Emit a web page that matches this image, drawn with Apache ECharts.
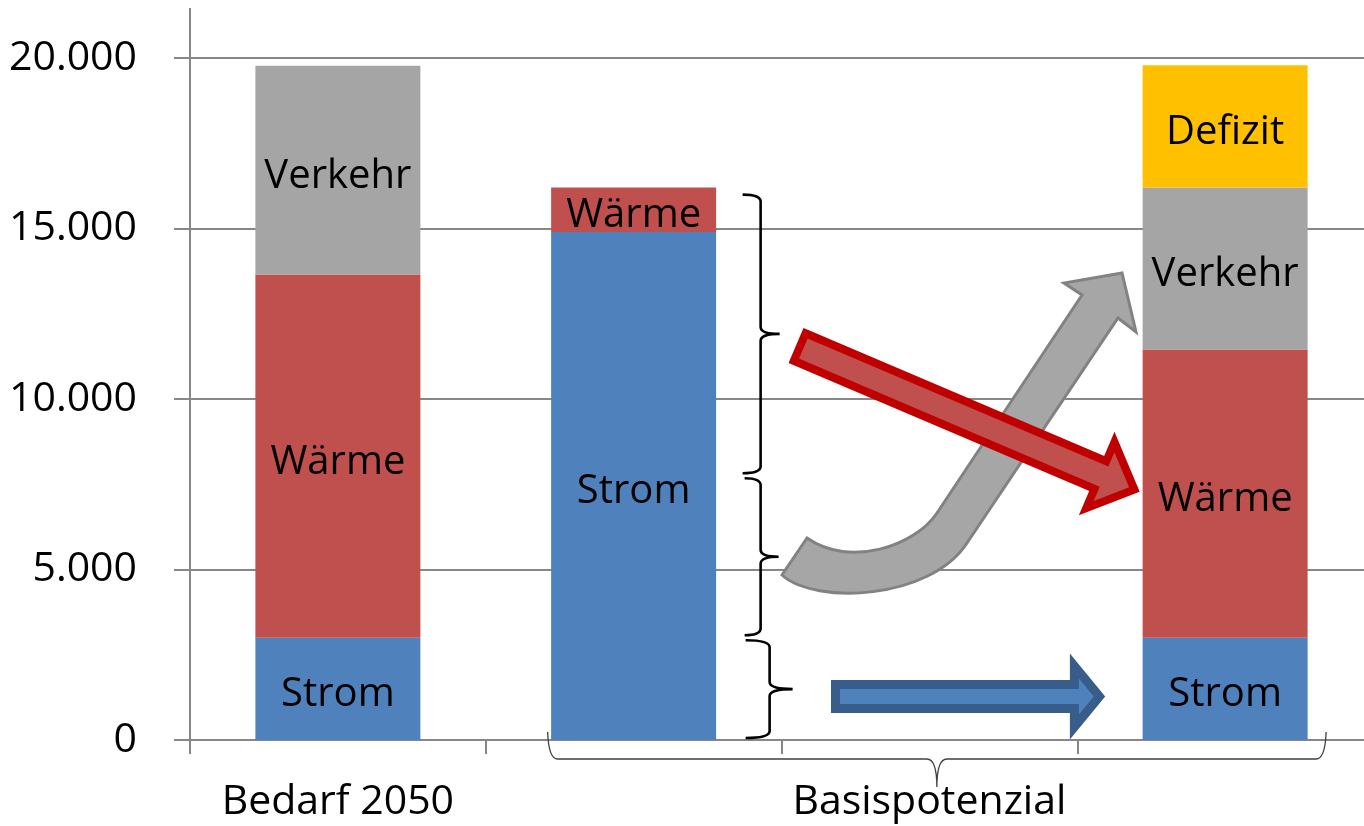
<!DOCTYPE html>
<html>
<head>
<meta charset="utf-8">
<script src="https://cdn.jsdelivr.net/npm/echarts@6/dist/echarts.min.js"></script>
<style>
  html, body { margin: 0; padding: 0; background: #fff; }
  #chart { width: 1364px; height: 826px; }
</style>
</head>
<body>
<div id="chart"></div>
<script>
// Energy demand 2050 vs. base potential (stacked bars)
const categories = ['Bedarf 2050', '', 'Basispotenzial', ''];
const strom   = [3000, 14900, '-', 3000];
const waerme  = [10650, 1300, '-', 8450];
const verkehr = [6120, '-', '-', 4750];
const defizit = ['-', '-', '-', 3590];

// How the base potential is split between the sectors (bracketed next to the second bar)
const splitSegments = [3000, 4750, 8450]; // Strom, Verkehr, Wärme

const yTicks = { min: 0, max: 20000, interval: 5000 };

const FONT = 'Open Sans';
const AXIS = '#878787';
const COLORS = { strom: '#4F81BD', waerme: '#C0504D', verkehr: '#A5A5A5', defizit: '#FFC000' };

const chart = echarts.init(document.getElementById('chart'), null, { renderer: 'canvas' });

function barSeries(name, data, color) {
  return {
    name, type: 'bar', stack: 'total', data,
    barWidth: 165,
    itemStyle: { color },
    label: {
      show: true, position: 'inside', formatter: '{a}', offset: [0, 6],
      color: '#000', fontFamily: FONT, fontSize: 40
    },
    emphasis: { disabled: true },
    z: 2
  };
}

function fmt(v) {
  return String(v).replace(/\B(?=(\d{3})+(?!\d))/g, '.');
}

// right-pointing curly brace
function braceRight(x, yTop, yBot, hook, tip) {
  const r = 7, yMid = (yTop + yBot) / 2;
  return `M${x - hook},${yTop} Q${x},${yTop} ${x},${yTop + r} L${x},${yMid - r} ` +
         `Q${x},${yMid} ${x + tip},${yMid} Q${x},${yMid} ${x},${yMid + r} ` +
         `L${x},${yBot - r} Q${x},${yBot} ${x - hook},${yBot}`;
}

// downward curly brace
function braceDown(x0, x1, yTop, yLine, yTip) {
  const xm = (x0 + x1) / 2, r = 10;
  return `M${x0},${yTop} Q${x0 + 1},${yLine} ${x0 + r},${yLine} L${xm - r},${yLine} ` +
         `Q${xm},${yLine} ${xm},${yTip} Q${xm},${yLine} ${xm + r},${yLine} ` +
         `L${x1 - r},${yLine} Q${x1 - 1},${yLine} ${x1},${yTop}`;
}

function arrowPts(x0, y0, x1, y1, bh, hh, hl) {
  const dx = x1 - x0, dy = y1 - y0, L = Math.hypot(dx, dy);
  const ux = dx / L, uy = dy / L, vx = -uy, vy = ux;
  const p = (s, t) => [x0 + ux * s + vx * t, y0 + uy * s + vy * t];
  return [p(0, -bh), p(L - hl, -bh), p(L - hl, -hh), p(L, 0), p(L - hl, hh), p(L - hl, bh), p(0, bh)];
}

// braces, arrows and the axis extension, placed through the cartesian coordinates
function renderAnnotations(params, api) {
  if (params.dataIndex !== 0) return;
  const pt = (i, v) => api.coord([i, v]);
  const band = api.size([1, 0])[0];
  const children = [];

  // vertical axis line continues above the top gridline
  const axisX = pt(0, 0)[0] - band / 2;
  children.push({
    type: 'line',
    shape: { x1: axisX, y1: 8, x2: axisX, y2: pt(0, yTicks.max)[1] },
    style: { stroke: AXIS, lineWidth: 2 }
  });

  // grey curved arrow (Verkehr)
  children.push({
    type: 'path',
    shape: { pathData: 'M782,575 C815,605 930,600 967,543 L1118,318 L1136,332 L1122,273 L1064,283 L1082,295 L937,513 C915,546 850,568 807,538 Z' },
    style: { fill: '#A6A6A6', stroke: '#828282', lineWidth: 3, lineJoin: 'miter' }
  });

  // red arrow (Wärme)
  children.push({
    type: 'polygon',
    shape: { points: arrowPts(799.7, 347, 1134.4, 489.6, 15, 36, 37) },
    style: { fill: '#C0504D', stroke: '#C00000', lineWidth: 8, lineJoin: 'miter' }
  });

  // blue arrow (Strom)
  children.push({
    type: 'polygon',
    shape: { points: arrowPts(835.5, 696.5, 1099.4, 696.5, 12, 30.5, 25) },
    style: { fill: '#4F81BD', stroke: '#385D8A', lineWidth: 9, lineJoin: 'miter' }
  });

  // braces partitioning the potential bar
  const cx = pt(1, 0)[0];
  const cum = [0];
  splitSegments.forEach(v => cum.push(cum[cum.length - 1] + v));
  const braceDefs = [
    { dx: 136, hook: 24, tip: 23 },
    { dx: 127, hook: 16, tip: 18 },
    { dx: 127, hook: 18, tip: 19 }
  ];
  splitSegments.forEach((v, i) => {
    const lo = cum[i], hi = cum[i + 1];
    const yBot = pt(1, lo)[1] - (i === 0 ? 2 : 2.5);
    const yTop = pt(1, hi)[1] + (i === splitSegments.length - 1 ? 7 : 2.5);
    const d = braceDefs[i];
    children.push({
      type: 'path',
      shape: { pathData: braceRight(cx + d.dx, yTop, yBot, d.hook, d.tip) },
      style: { fill: null, stroke: '#000', lineWidth: 2.6 }
    });
  });

  // brace grouping the potential columns under the axis
  const y0 = pt(1, 0)[1];
  const bx0 = pt(1, 0)[0] - 86, bx1 = pt(3, 0)[0] + 101;
  children.push({
    type: 'path',
    shape: { pathData: braceDown(bx0, bx1, y0 - 8, y0 + 19, y0 + 47) },
    style: { fill: null, stroke: '#404040', lineWidth: 1.3 }
  });

  return { type: 'group', children };
}

chart.setOption({
  animation: false,
  backgroundColor: '#fff',
  grid: { left: 190, top: 58, bottom: 86, width: 1183, outerBoundsMode: 'none', containLabel: false },
  xAxis: {
    type: 'category',
    data: categories,
    boundaryGap: true,
    axisLine: { show: true, lineStyle: { color: AXIS, width: 2 } },
    axisTick: { show: true, length: 14, interval: 0, lineStyle: { color: AXIS, width: 2 } },
    axisLabel: { interval: 0, margin: 42, color: '#000', fontFamily: FONT, fontSize: 41 }
  },
  yAxis: {
    type: 'value',
    min: yTicks.min, max: yTicks.max, interval: yTicks.interval,
    axisLine: { show: true, lineStyle: { color: AXIS, width: 2 } },
    axisTick: { show: true, length: 16, lineStyle: { color: AXIS, width: 2 } },
    splitLine: { show: true, lineStyle: { color: AXIS, width: 2 } },
    axisLabel: { margin: 53, color: '#000', fontFamily: FONT, fontSize: 41, formatter: fmt }
  },
  series: [
    barSeries('Strom', strom, COLORS.strom),
    barSeries('Wärme', waerme, COLORS.waerme),
    barSeries('Verkehr', verkehr, COLORS.verkehr),
    barSeries('Defizit', defizit, COLORS.defizit),
    {
      type: 'custom',
      coordinateSystem: 'cartesian2d',
      data: [[0, 0]],
      renderItem: renderAnnotations,
      clip: false,
      silent: true,
      z: 10
    }
  ]
});
</script>
</body>
</html>
